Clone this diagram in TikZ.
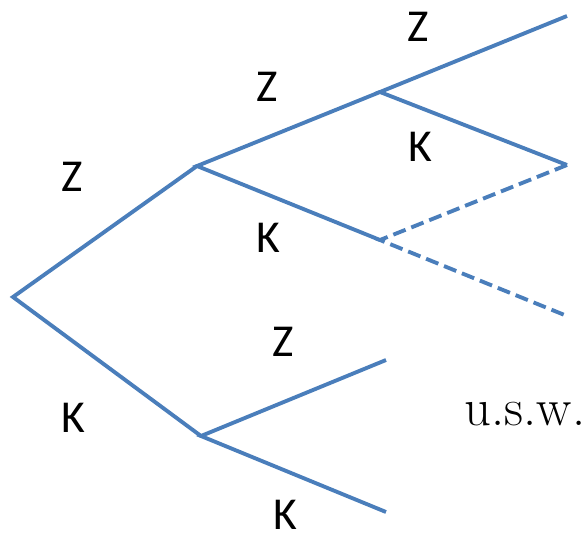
\documentclass[tikz,border=0pt]{standalone}
\usepackage{fontspec}
\setsansfont{Carlito}
\usepackage{tikz}
\usetikzlibrary{positioning}
\definecolor{astB}{RGB}{74,126,187}

\begin{document}
\begin{tikzpicture}[x=0.02cm, y=-0.02cm,
  ast/.style={draw=astB, line width=2.2pt},
  offen/.style={ast, dash pattern=on 7.5pt off 3.5pt},
  lab/.style={font=\sffamily\fontsize{26}{30}\selectfont, inner sep=0}]
  \useasboundingbox (0,0) rectangle (588,538);
  % Knoten
  \coordinate (r) at (13,297);
  \coordinate (a) at (197,166);
  \coordinate (b) at (201,436);
  \coordinate (aa) at (380,92);
  \coordinate (ab) at (380,240);
  \coordinate (aaa) at (567,16);
  \coordinate (aab) at (567,165);
  \coordinate (abb) at (567,316);
  \coordinate (ba) at (386,360);
  \coordinate (bb) at (386,512);
  % Zweige
  \draw[ast] (a) -- (r) -- (b);
  \draw[ast] (aa) -- (a) -- (ab);
  \draw[ast] (aaa) -- (aa) -- (aab);
  \draw[offen] (aab) -- (ab) -- (abb);
  \draw[ast] (ba) -- (b) -- (bb);
  % Beschriftung
  \node[lab] (z1) at (72,177) {Z};
  \node[lab] (k1) at (73,418) {K};
  \node[lab] (z2) at (267,87) {Z};
  \node[lab] (k2) at (268,238) {K};
  \node[lab] (z3) at (418,27) {Z};
  \node[lab] (k3) at (420,147) {K};
  \node[lab] (z4) at (283,342) {Z};
  \node[lab] (k4) at (285,515) {K};
  \node[font=\rmfamily\fontsize{30}{34}\selectfont, inner sep=0] (usw) at (525,414) {u.s.w.};
\end{tikzpicture}
\end{document}
